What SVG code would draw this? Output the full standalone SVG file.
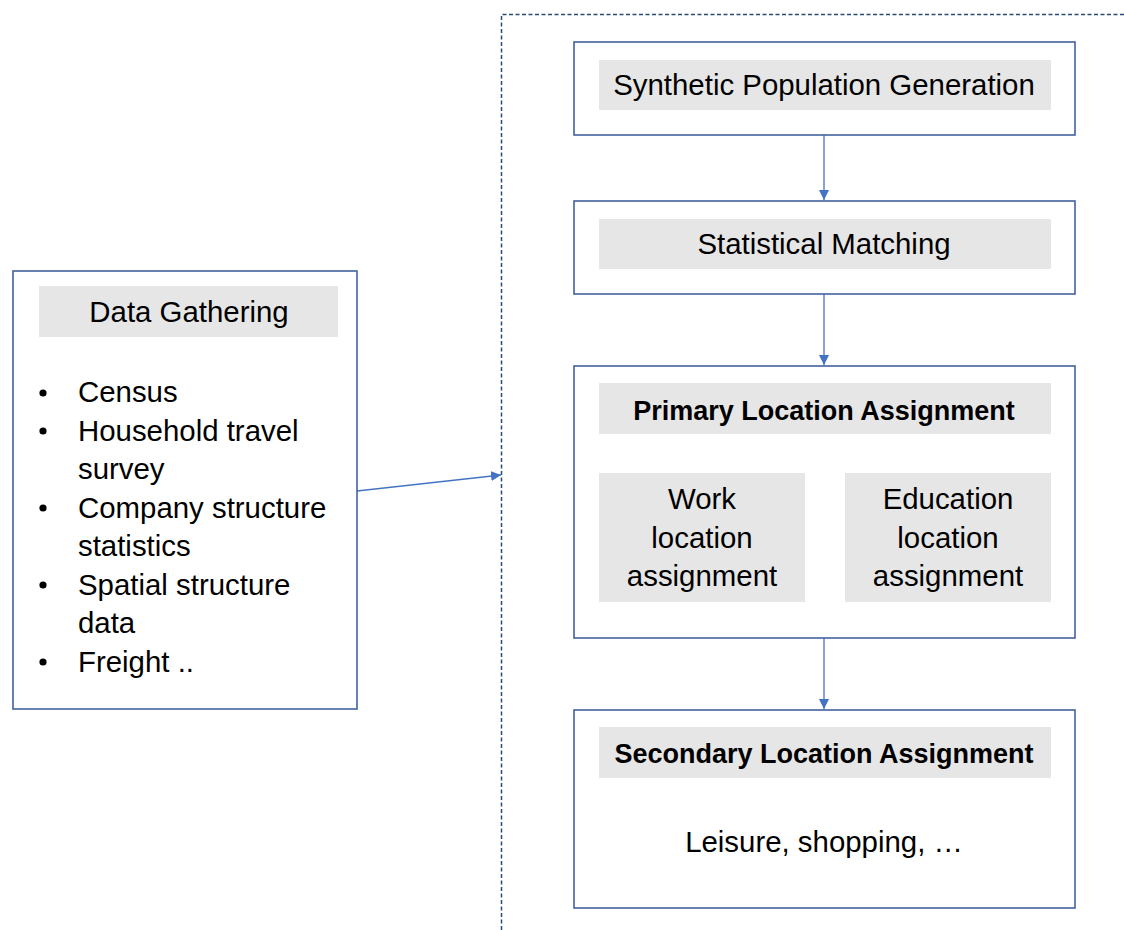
<svg xmlns="http://www.w3.org/2000/svg" width="1124" height="930" viewBox="0 0 1124 930">
<style>
.box{fill:#fff;stroke:#41639F;stroke-width:1.6}
.lbl{fill:#E7E6E6}
.t{font-family:"Liberation Sans",Arial,sans-serif;font-size:29.4px;fill:#000}
.b{font-family:"Liberation Sans",Arial,sans-serif;font-size:27px;font-weight:bold;fill:#000}
.c{stroke:#4472C4;stroke-width:1.3;fill:none}
</style>
<defs>
<marker id="ah" viewBox="0 0 10 10" refX="10" refY="5" markerWidth="10" markerHeight="10" markerUnits="userSpaceOnUse" orient="auto">
<path d="M0,0 L10,5 L0,10 z" fill="#4472C4"/>
</marker>
</defs>
<rect width="1124" height="930" fill="#fff"/>
<g id="boundary">
<path d="M501.5,930 L501.5,14.5 L1124,14.5" fill="none" stroke="#2A4A7A" stroke-width="1.5" stroke-dasharray="4 2.5"/>
</g>
<g id="connectors">
<line class="c" x1="824" y1="135" x2="824" y2="200" marker-end="url(#ah)"/>
<line class="c" x1="824" y1="294" x2="824" y2="365" marker-end="url(#ah)"/>
<line class="c" x1="824" y1="638" x2="824" y2="709" marker-end="url(#ah)"/>
<line class="c" x1="357" y1="491" x2="501" y2="475" marker-end="url(#ah)"/>
</g>
<g id="data-gathering">
<rect class="box" x="13" y="271" width="344" height="438"/>
<rect class="lbl" x="39" y="286" width="299" height="51"/>
<text class="t" x="189" y="322" text-anchor="middle">Data Gathering</text>
<g class="t">
<circle cx="43" cy="393" r="3.6"/>
<circle cx="43" cy="431" r="3.6"/>
<circle cx="43" cy="508" r="3.6"/>
<circle cx="43" cy="585" r="3.6"/>
<circle cx="43" cy="662" r="3.6"/>
<text x="78" y="402">Census</text>
<text x="78" y="441">Household travel</text>
<text x="78" y="479">survey</text>
<text x="78" y="518">Company structure</text>
<text x="78" y="556">statistics</text>
<text x="78" y="595">Spatial structure</text>
<text x="78" y="633">data</text>
<text x="78" y="672">Freight ..</text>
</g>
</g>
<g id="synthetic-population">
<rect class="box" x="574" y="42" width="501" height="93"/>
<rect class="lbl" x="599" y="60" width="452" height="50"/>
<text class="t" x="824" y="95" text-anchor="middle">Synthetic Population Generation</text>
</g>
<g id="statistical-matching">
<rect class="box" x="574" y="201" width="501" height="93"/>
<rect class="lbl" x="599" y="219" width="452" height="50"/>
<text class="t" x="824" y="254" text-anchor="middle">Statistical Matching</text>
</g>
<g id="primary-location">
<rect class="box" x="574" y="366" width="501" height="272"/>
<rect class="lbl" x="599" y="383" width="452" height="51"/>
<text class="b" x="824" y="420" text-anchor="middle">Primary Location Assignment</text>
<g id="work-location">
<rect class="lbl" x="599" y="473" width="206" height="129"/>
<text class="t" x="702" y="509" text-anchor="middle">Work</text>
<text class="t" x="702" y="548" text-anchor="middle">location</text>
<text class="t" x="702" y="586" text-anchor="middle">assignment</text>
</g>
<g id="education-location">
<rect class="lbl" x="845" y="473" width="206" height="129"/>
<text class="t" x="948" y="509" text-anchor="middle">Education</text>
<text class="t" x="948" y="548" text-anchor="middle">location</text>
<text class="t" x="948" y="586" text-anchor="middle">assignment</text>
</g>
</g>
<g id="secondary-location">
<rect class="box" x="574" y="710" width="501" height="198"/>
<rect class="lbl" x="599" y="727" width="452" height="51"/>
<text class="b" x="824" y="763" text-anchor="middle">Secondary Location Assignment</text>
<text class="t" x="824" y="852" text-anchor="middle">Leisure, shopping, …</text>
</g>
</svg>
